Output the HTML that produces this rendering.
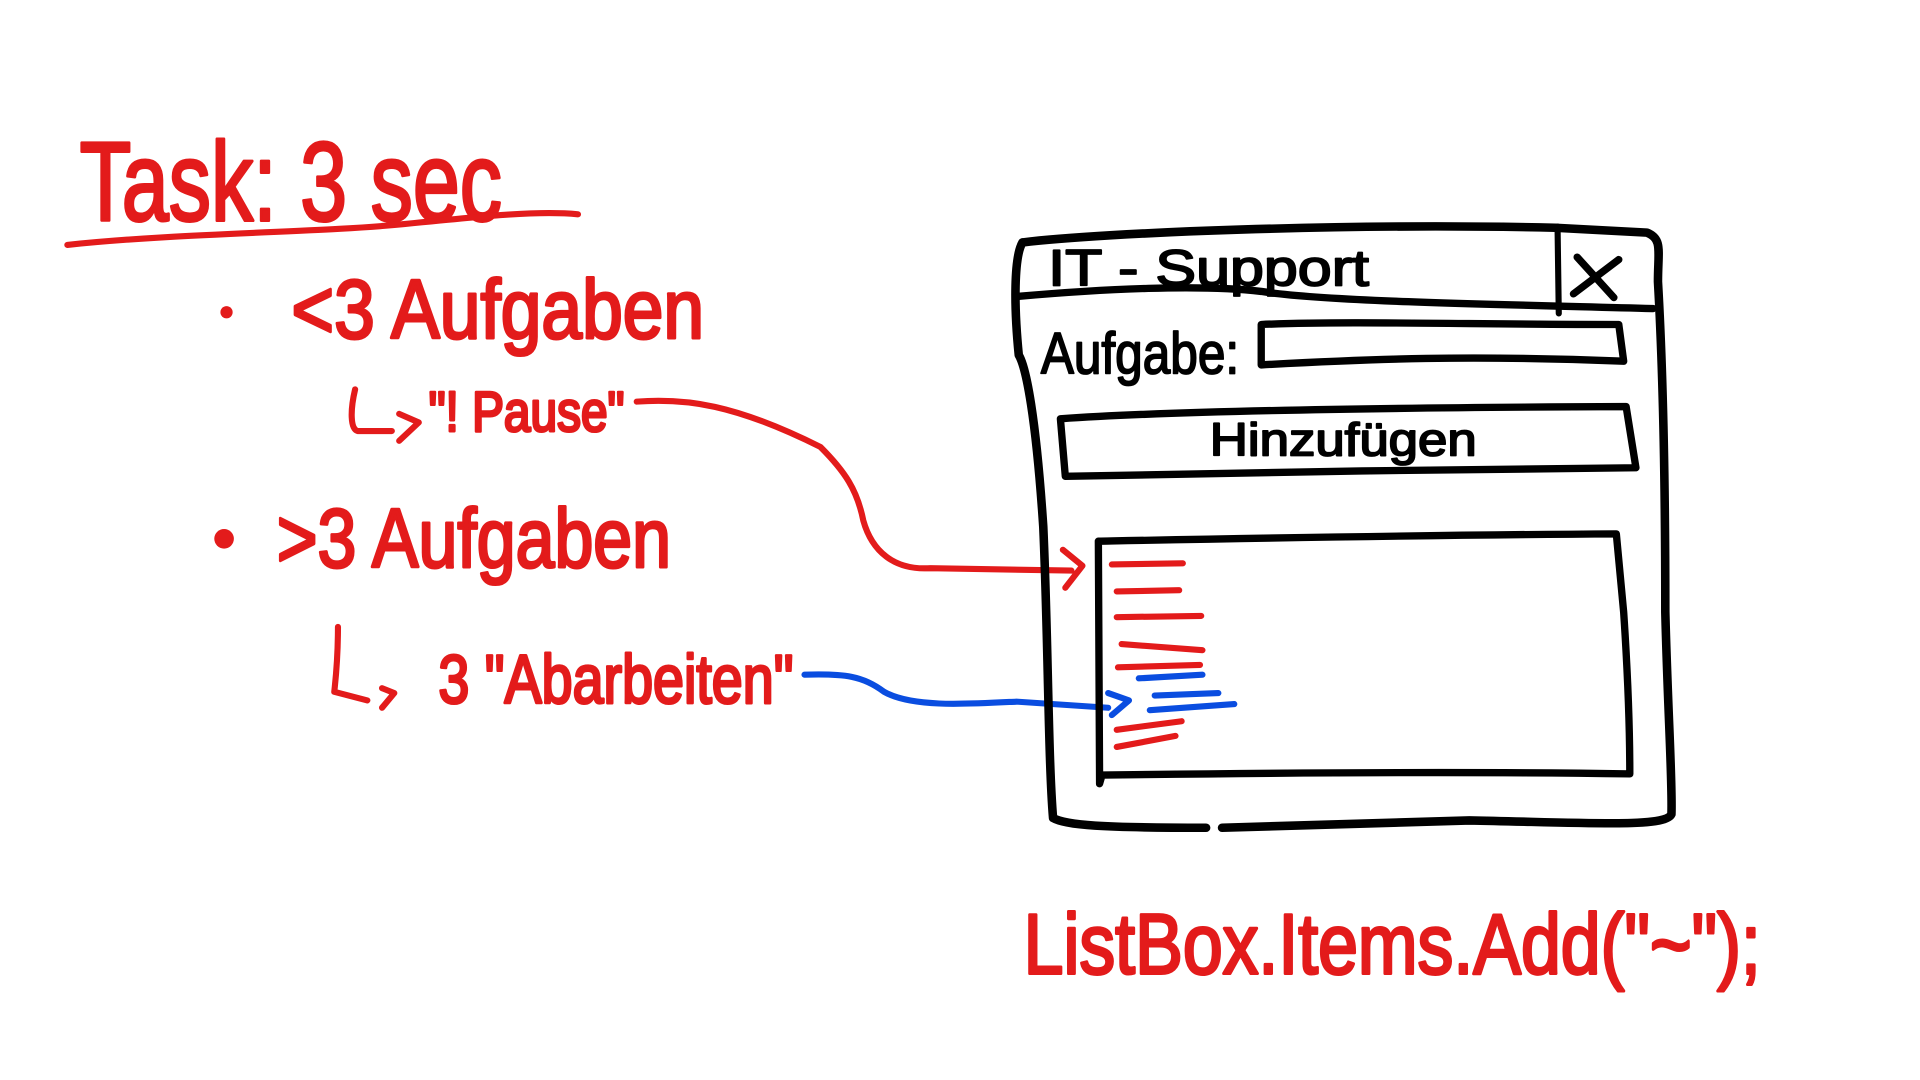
<!DOCTYPE html>
<html><head><meta charset="utf-8"><style>
html,body{margin:0;padding:0;background:#fff;width:1920px;height:1080px;overflow:hidden}
svg{display:block}
text{font-family:"Liberation Sans",sans-serif}
.r{fill:#e31b1b;stroke:#e31b1b;stroke-width:2.5;stroke-linejoin:round}
.k{fill:#000;stroke:#000;stroke-width:1.5;stroke-linejoin:round}
.rs{stroke:#e31b1b;fill:none;stroke-linecap:round;stroke-linejoin:round}
.bs{stroke:#0a4de0;fill:none;stroke-linecap:round;stroke-linejoin:round}
.ks{stroke:#000;fill:none;stroke-linecap:round;stroke-linejoin:round}
</style></head><body>
<svg width="1920" height="1080" viewBox="0 0 1568 882">
<g>
<text class="r" x="65" y="180" font-size="92" textLength="345" lengthAdjust="spacingAndGlyphs">Task:  3 sec</text>
<path class="rs" stroke-width="5" d="M55 200 C150 190 260 190 330 183 C400 176 440 172 472 175"/>
</g>
<g>
<circle cx="185" cy="255" r="5" fill="#e31b1b"/>
<text class="r" x="238" y="276" font-size="68" textLength="337" lengthAdjust="spacingAndGlyphs">&lt;3 Aufgaben</text>
<path class="rs" stroke-width="5" d="M290 318 C286 335 286 350 292 352 L320 352 M326 338 L342 345 L326 360"/>
<text class="r" x="350" y="352" font-size="46" textLength="160" lengthAdjust="spacingAndGlyphs">"! Pause"</text>
</g>
<g>
<circle cx="183" cy="440" r="8" fill="#e31b1b"/>
<text class="r" x="226" y="463" font-size="68" textLength="322" lengthAdjust="spacingAndGlyphs">&gt;3 Aufgaben</text>
<path class="rs" stroke-width="5" d="M276 512 C276 540 274 555 273 565 L300 572 M312 562 L322 566 L312 578"/>
<text class="r" x="358" y="574" font-size="56" textLength="290" lengthAdjust="spacingAndGlyphs">3 "Abarbeiten"</text>
</g>
<path class="rs" stroke-width="5" d="M520 328 C560 325 600 330 670 365 C690 385 700 400 705 425 C712 450 730 466 760 464 L875 466 M868 449 L884 462 L870 480"/>
<path class="bs" stroke-width="5" d="M657 551 C690 550 705 552 722 565 C745 578 790 575 830 573 L905 578 M905 566 L922 572 L908 584"/>
<g>
<path class="ks" stroke-width="7" d="M835 198 C900 190 1100 182 1270 186 L1345 190 C1358 195 1354 205 1354 230 C1358 300 1360 400 1360 500 C1362 580 1366 640 1365 665 C1360 676 1300 672 1200 670 L998 676 M985 676 C900 676 870 674 860 668 C856 620 856 520 852 430 C846 340 838 300 832 290 C828 250 828 210 835 198"/>
<path class="ks" stroke-width="6" d="M832 242 C900 236 980 232 1030 238 C1080 246 1200 248 1350 252"/>
<path class="ks" stroke-width="5" d="M1272 185 L1273 256"/>
<text class="k" x="856" y="233" font-size="42" textLength="262" lengthAdjust="spacingAndGlyphs">IT - Support</text>
<path class="ks" stroke-width="6" d="M1288 210 L1318 243 M1322 212 L1285 240"/>
<text class="k" x="850" y="305" font-size="48" textLength="162" lengthAdjust="spacingAndGlyphs">Aufgabe:</text>
<path class="ks" stroke-width="6" d="M1030 265 C1100 262 1200 265 1322 265 L1326 295 C1200 290 1120 293 1030 298 Z"/>
<path class="ks" stroke-width="6" d="M866 342 C950 336 1100 333 1328 332 L1336 382 C1200 383 1000 386 870 389 Z"/>
<text class="k" x="988" y="372" font-size="38" textLength="218" lengthAdjust="spacingAndGlyphs">Hinzufügen</text>
<path class="ks" stroke-width="6" d="M897 442 C1000 440 1150 437 1320 436 L1326 500 C1330 560 1331 600 1331 632 C1200 630 1050 631 900 633 L898 640 Z"/>
<g>
<path class="rs" stroke-width="5" d="M908 461 L966 460 M912 483 L963 482 M912 504 L981 503 M916 526 L982 531 M913 545 L980 543 M912 596 L965 589 M912 610 L960 601"/>
<path class="bs" stroke-width="5" d="M930 554 L982 551 M943 568 L995 566 M939 580 L1008 575"/>
</g>
</g>
<text class="r" x="836" y="795" font-size="70" textLength="602" lengthAdjust="spacingAndGlyphs">ListBox.Items.Add("~");</text>
</svg>
</body></html>
